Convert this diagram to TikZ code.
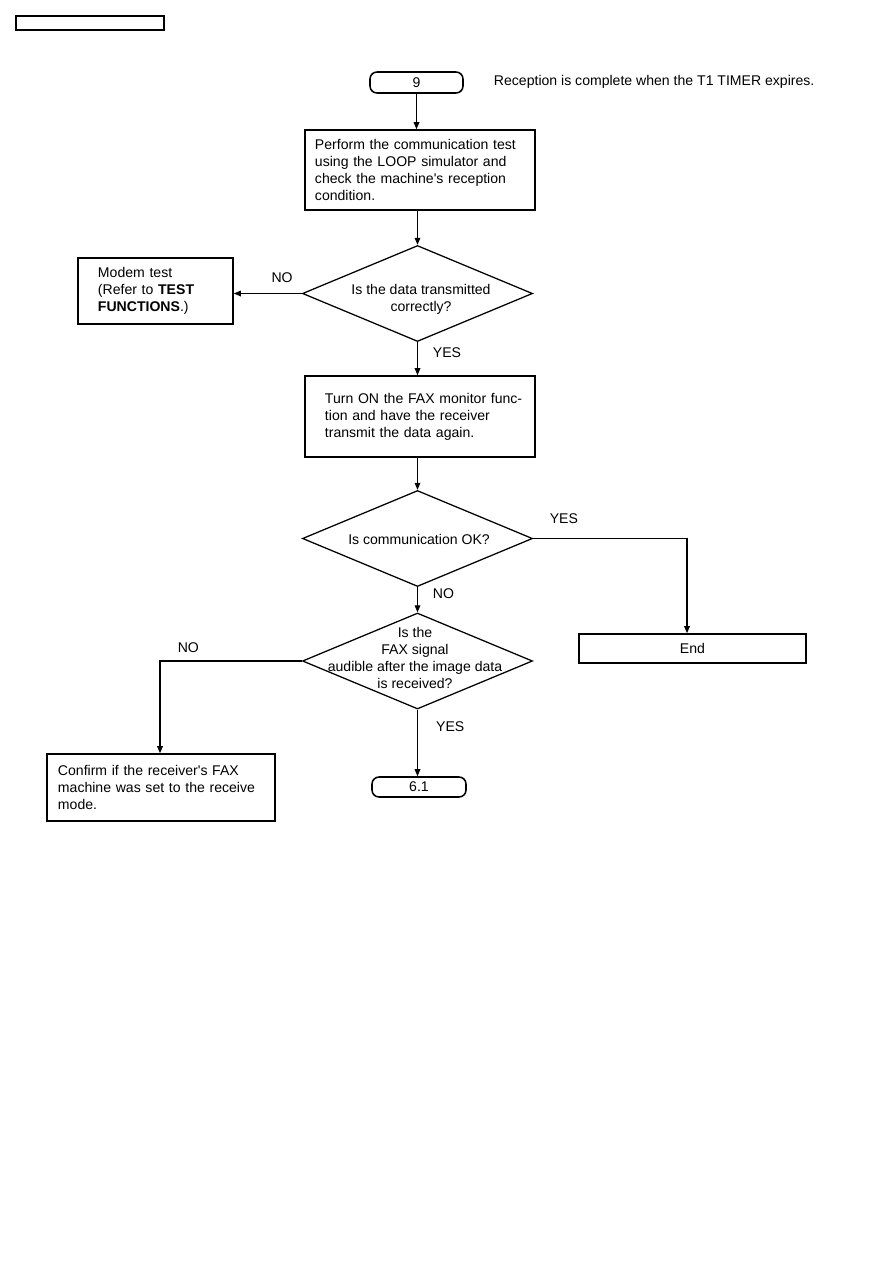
\documentclass[tikz,border=0pt]{standalone}
\usepackage{fontspec}
\setmainfont{Liberation Sans}
\usetikzlibrary{arrows.meta,shapes.geometric}

\begin{document}
\begin{tikzpicture}[x=0.025cm, y=-0.025cm, >={Triangle[length=5pt,width=4pt]},
  font=\fontsize{10}{12.1}\selectfont,
  box/.style={draw, line width=1.1pt, align=left, inner ysep=0pt},
  term/.style={draw, line width=1.1pt, rounded corners=5pt, minimum height=0.525cm, inner sep=0pt},
  decision/.style={draw, diamond, line width=0.9pt, minimum width=5.75cm, minimum height=2.4cm, inner sep=0pt},
  flow/.style={->, line width=0.9pt},
  tag/.style={inner sep=0pt}]

% page frame
\useasboundingbox (0,0) rectangle (893,1263);
\draw[line width=0.9pt] (16,16) rectangle (164,30);

% start
\node[term, minimum width=2.325cm] (t9) at (416.5,82.5) {9};
\node[anchor=west] (note) at (489,82) {Reception is complete when the T1 TIMER expires.};

% LOOP test
\node[box, minimum width=5.75cm, minimum height=2cm, text width=5.25cm, inner xsep=0.25cm] (loop) at (420,170)
  {Perform the communication test\\using the LOOP simulator and\\check the machine\textquotesingle s reception\\condition.};

% first check
\node[decision] (d1) at (417.5,293.5) {};
\node[align=center] at (421,299.5) {Is the data transmitted\\correctly?};

\node[box, minimum width=3.875cm, minimum height=1.65cm, text width=2.875cm, inner xsep=0.5cm] (modem) at (155.5,291)
  {Modem test\\(Refer to \textbf{TEST}\\\textbf{FUNCTIONS}.)};

% monitor
\node[box, minimum width=5.75cm, minimum height=2.025cm, text width=4.75cm, inner xsep=0.5cm] (monitor) at (420,416.5)
  {\mbox{Turn ON the FAX monitor func-}\\tion and have the receiver\\transmit the data again.};

% second check
\node[decision] (d2) at (417.5,538.5) {};
\node at (419,539) {Is communication OK?};

\node[box, minimum width=5.675cm, minimum height=0.725cm, align=center] (end) at (692.5,648.5) {End};

% third check
\node[decision] (d3) at (417.5,661) {};
\node[align=center] at (415,657.5) {Is the\\FAX signal\\audible after the image data\\is received?};

\node[box, minimum width=5.7cm, minimum height=1.675cm, text width=5.15cm, inner xsep=0.275cm] (confirm) at (161,787.5)
  {Confirm if the receiver\textquotesingle s FAX\\machine was set to the receive\\mode.};

\node[term, minimum width=2.35cm, minimum height=0.5cm] (t61) at (419,787) {6.1};

% connectors
\draw[flow] (t9.south) -- (t9.south |- loop.north);
\draw[flow] (loop.south -| d1.north) -- (d1.north);
\draw[flow] (d1.west) -- (d1.west -| modem.east) node[tag, pos=0.29, anchor=south, yshift=0.25cm] {NO};
\draw[flow] (d1.south) -- (d1.south |- monitor.north) node[tag, pos=0.32, anchor=west, xshift=0.37cm] {YES};
\draw[flow] (monitor.south -| d2.north) -- (d2.north);
\draw[flow] (d2.east) -| (end.north -| 687,0) node[tag, pos=0.1, anchor=south, yshift=0.35cm] {YES};
\draw[flow] (d2.south) -- (d3.north) node[tag, pos=0.25, anchor=west, xshift=0.37cm] {NO};
\draw[flow] (d3.west) -| (confirm.north -| 160,0) node[tag, pos=0.4, anchor=south, yshift=0.2cm] {NO};
\draw[flow] (d3.south) -- (d3.south |- t61.north) node[tag, pos=0.25, anchor=west, xshift=0.45cm] {YES};
\end{tikzpicture}
\end{document}
